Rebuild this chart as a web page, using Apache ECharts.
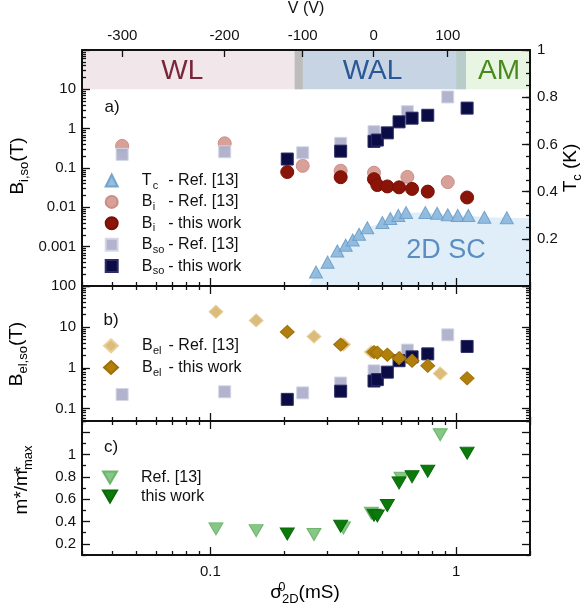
<!DOCTYPE html>
<html><head><meta charset="utf-8">
<script src="https://cdn.jsdelivr.net/npm/echarts@6/dist/echarts.min.js"></script>
<style>html,body{margin:0;padding:0;background:#fff}#c{width:586px;height:614px}</style>
</head><body><div id="c"></div>
<script>
// ---------------- data ----------------
// Panel a: Tc from Ref. [13]
const tcSigma = [0.269, 0.300, 0.3285, 0.3554, 0.3795, 0.4027, 0.4352, 0.501, 0.540, 0.582, 0.626, 0.750, 0.837, 0.925, 1.016, 1.122, 1.304, 1.609];
const tcValues = [0.059, 0.101, 0.148, 0.173, 0.195, 0.219, 0.247, 0.269, 0.286, 0.299, 0.311, 0.311, 0.308, 0.302, 0.299, 0.299, 0.291, 0.289];
const scStart = [0.252, 0];
const scEnd = [2.0, 0.288];
// Panel a: Bi, Bso
const refSigmaA = [0.0437, 0.1143, 0.2375, 0.339, 0.4634, 0.6336, 0.925];
const biRef = [0.365, 0.424, 0.1135, 0.0851, 0.076, 0.0594, 0.0438];
const bsoRef = [0.222, 0.259, 0.244, 0.424, 0.842, 2.71, 6.4];
const thisSigma = [0.2055, 0.339, 0.4634, 0.478, 0.525, 0.586, 0.662, 0.767, 1.109];
const biThis = [0.079, 0.0584, 0.052, 0.0369, 0.034, 0.0322, 0.0294, 0.0251, 0.0178];
const bsoThis = [0.169, 0.268, 0.475, 0.514, 0.782, 1.49, 1.85, 2.19, 3.33];
// Panel b: Bel
const refSigmaBC = [0.1053, 0.1535, 0.264, 0.348, 0.452, 0.597, 0.862];
const belRef = [23.4, 14.4, 5.8, 3.69, 2.42, 1.8, 0.724];
const belThis = [7.53, 3.69, 2.42, 2.34, 2.09, 1.72, 1.49, 1.12, 0.555];
// Panel c: m*/m*max
const mRef = [0.334, 0.318, 0.283, 0.343, 0.474, 0.787, 1.177];
const mThis = [0.288, 0.357, 0.456, 0.45, 0.543, 0.746, 0.80, 0.85, 1.012];
// regimes (top band)
const bandNames = ['WL', '', 'WAL', '', 'AM'];
const bandFrom = [0.03, 0.22, 0.238, 1.0, 1.1];
const bandTo = [0.22, 0.238, 1.0, 1.1, 2.0];
const bandY = [10, 100];
// tick labels
const vTickLabels = [-300, -200, -100, 0, 100];
const vTickSigma = [0.0438, 0.1141, 0.2375, 0.462, 0.925];
const sigmaLabels = [0.1, 1];
const bLabelsA = [0.001, 0.01, 0.1, 1, 10];
const bLabelsB = [0.1, 1, 10, 100];
const tcLabels = [0.2, 0.4, 0.6, 0.8, 1];
const mLabels = [0.2, 0.4, 0.6, 0.8, 1];

// ---------------- helpers ----------------
const FONT = '"Liberation Sans", Arial, Helvetica, sans-serif';
const K = '#111';
const SX = [0.03, 2];      // sigma range
const YA = [1e-4, 100];    // panel a B range
const YB = [0.05, 100];    // panel b B range
const YC = [0.1, 1.3];     // panel c range

function logMajors(min, max) {
  const out = [];
  for (let e = Math.floor(Math.log10(min)); e <= Math.ceil(Math.log10(max)); e++) {
    const v = +Math.pow(10, e).toPrecision(6);
    if (v >= min * 0.9999 && v <= max * 1.0001) out.push(v);
  }
  return out;
}
function logMinors(min, max) {
  const out = [];
  for (let e = Math.floor(Math.log10(min)); e <= Math.ceil(Math.log10(max)); e++) {
    for (let k = 2; k <= 9; k++) {
      const v = +(k * Math.pow(10, e)).toPrecision(6);
      if (v >= min * 0.9999 && v <= max * 1.0001) out.push(v);
    }
  }
  return out;
}
function linTicks(min, max, step, offset) {
  const out = [];
  for (let v = offset; v <= max + 1e-9; v += step) {
    if (v >= min - 1e-9) out.push(+v.toFixed(4));
  }
  return out;
}
function fmtNum(v) { return String(+Number(v).toPrecision(3)); }

const subRich = (fs, sfs, drop) => ({
  m: { fontSize: fs, fontFamily: FONT, color: K, lineHeight: fs + 6 },
  s: { fontSize: sfs, fontFamily: FONT, color: K, lineHeight: sfs, padding: [drop, 0, 0, 0] },
  u0: { fontSize: sfs, fontFamily: FONT, color: K, lineHeight: sfs, padding: [0, 0, drop, 0], width: 0.01 },
  m0: { fontSize: fs, fontFamily: FONT, color: K, width: 0.01, lineHeight: fs + 6 }
});

function axis(o) {
  const a = {
    type: o.type, gridIndex: o.grid, position: o.pos, min: o.min, max: o.max, logBase: 10,
    z: 20,
    axisLine: { show: !!o.line, onZero: false, lineStyle: { color: K, width: 2 } },
    axisTick: { show: !!o.ticks, inside: true, length: o.len || 0, customValues: o.ticks || [], lineStyle: { color: K, width: 1.3 } },
    axisLabel: o.labels ? { show: true, interval: 0, customValues: o.labels, formatter: o.fmt || fmtNum, margin: o.margin == null ? 6 : o.margin,
      color: K, fontSize: 15, lineHeight: 15, fontFamily: FONT, hideOverlap: false, showMinLabel: true, showMaxLabel: true } : { show: false },
    splitLine: { show: false }, minorTick: { show: false }, minorSplitLine: { show: false },
    silent: true
  };
  if (o.name) {
    a.name = o.name; a.nameLocation = 'middle'; a.nameGap = o.nameGap;
    a.nameMoveOverlap = false;
    a.nameTextStyle = o.nameStyle || { color: K, fontSize: 16, fontFamily: FONT };
    if (o.nameRotate != null) a.nameRotate = o.nameRotate;
  }
  return a;
}

const xMaj = logMajors(SX[0], SX[1]);
const xMin = logMinors(SX[0], SX[1]);

const xAxes = [
  // grid 0
  axis({ type: 'log', grid: 0, pos: 'bottom', min: SX[0], max: SX[1], ticks: xMaj, len: 8, line: true }),
  axis({ type: 'log', grid: 0, pos: 'bottom', min: SX[0], max: SX[1], ticks: xMin, len: 4 }),
  axis({ type: 'log', grid: 0, pos: 'top', min: SX[0], max: SX[1], ticks: vTickSigma, len: 7, line: true,
    labels: vTickSigma, margin: 7, name: 'V (V)', nameGap: 33,
    fmt: v => { let b = 0, d = 1e9; vTickSigma.forEach((s, i) => { const dd = Math.abs(Math.log(s) - Math.log(v)); if (dd < d) { d = dd; b = i; } }); return String(vTickLabels[b]); } }),
  // grid 1
  axis({ type: 'log', grid: 1, pos: 'bottom', min: SX[0], max: SX[1], ticks: xMaj, len: 8, line: true }),
  axis({ type: 'log', grid: 1, pos: 'bottom', min: SX[0], max: SX[1], ticks: xMin, len: 4 }),
  axis({ type: 'log', grid: 1, pos: 'top', min: SX[0], max: SX[1], ticks: xMaj, len: 8, line: true }),
  axis({ type: 'log', grid: 1, pos: 'top', min: SX[0], max: SX[1], ticks: xMin, len: 4 }),
  // grid 2
  axis({ type: 'log', grid: 2, pos: 'bottom', min: SX[0], max: SX[1], ticks: xMaj, len: 8, line: true, labels: sigmaLabels, margin: 9 }),
  axis({ type: 'log', grid: 2, pos: 'bottom', min: SX[0], max: SX[1], ticks: xMin, len: 4 }),
  axis({ type: 'log', grid: 2, pos: 'top', min: SX[0], max: SX[1], ticks: xMaj, len: 8, line: true }),
  axis({ type: 'log', grid: 2, pos: 'top', min: SX[0], max: SX[1], ticks: xMin, len: 4 })
];
const yAxes = [
  // grid 0
  axis({ type: 'log', grid: 0, pos: 'left', min: YA[0], max: YA[1], ticks: logMajors(YA[0], YA[1]), len: 8, line: true, labels: bLabelsA }),
  axis({ type: 'log', grid: 0, pos: 'left', min: YA[0], max: YA[1], ticks: logMinors(YA[0], YA[1]), len: 4 }),
  axis({ type: 'value', grid: 0, pos: 'right', min: 0, max: 1, ticks: linTicks(0, 1, 0.2, 0), len: 8, line: true, labels: tcLabels, margin: 7 }),
  axis({ type: 'value', grid: 0, pos: 'right', min: 0, max: 1, ticks: linTicks(0, 1, 0.05, 0), len: 4 }),
  // grid 1
  axis({ type: 'log', grid: 1, pos: 'left', min: YB[0], max: YB[1], ticks: logMajors(YB[0], YB[1]), len: 8, line: true, labels: bLabelsB }),
  axis({ type: 'log', grid: 1, pos: 'left', min: YB[0], max: YB[1], ticks: logMinors(YB[0], YB[1]), len: 4 }),
  axis({ type: 'log', grid: 1, pos: 'right', min: YB[0], max: YB[1], ticks: logMajors(YB[0], YB[1]), len: 8, line: true }),
  axis({ type: 'log', grid: 1, pos: 'right', min: YB[0], max: YB[1], ticks: logMinors(YB[0], YB[1]), len: 4 }),
  // grid 2 (tick labels placed below through this axis' own scale)
  axis({ type: 'value', grid: 2, pos: 'left', min: YC[0], max: YC[1], ticks: linTicks(YC[0], YC[1], 0.2, 0.2), len: 8, line: true }),
  axis({ type: 'value', grid: 2, pos: 'left', min: YC[0], max: YC[1], ticks: linTicks(YC[0], YC[1], 0.2, 0.1), len: 4 }),
  axis({ type: 'value', grid: 2, pos: 'right', min: YC[0], max: YC[1], ticks: linTicks(YC[0], YC[1], 0.2, 0.2), len: 8, line: true }),
  axis({ type: 'value', grid: 2, pos: 'right', min: YC[0], max: YC[1], ticks: linTicks(YC[0], YC[1], 0.2, 0.1), len: 4 })
];

function pairs(xs, ys) { return xs.map((x, i) => [x, ys[i]]); }
function sc(name, xi, yi, xs, ys, symbol, size, color, border, opacity, z, rotate) {
  return {
    type: 'scatter', name, xAxisIndex: xi, yAxisIndex: yi, data: pairs(xs, ys),
    symbol, symbolSize: size, symbolRotate: rotate || 0,
    itemStyle: { color, borderColor: border, borderWidth: 1, opacity },
    z, emphasis: { disabled: true }, silent: true
  };
}

const C = {
  tc: '#8ab6dc', tcB: '#6b9dc9',
  biR: '#d59c94', biRB: '#c98a82',
  biT: '#8a1408', biTB: '#7a1006',
  bsoR: '#aeb0cb', bsoRB: '#d4d6e6',
  bsoT: '#0b0c45', bsoTB: '#2b2d66',
  belR: '#dab874', belRB: '#e8cf9a',
  belT: '#b07f0c', belTB: '#a07008',
  mR: '#79c079', mRB: '#63b063',
  mT: '#0b7a0b', mTB: '#0a6a0a'
};
const bandColors = ['#f1e6ea', '#bcbcbc', '#c7d4e3', '#b8ccc9', '#e8f5e3'];
const bandText = ['#7a2638', '#000', '#2b5797', '#000', '#4a8a1c'];
const bandOffset = [-6, 0, -7, 0, 1];

const series = [
  { type: 'line', name: 'bands', xAxisIndex: 0, yAxisIndex: 0, data: [], silent: true, z: 1,
    markArea: { silent: true, data: bandFrom.map((f, i) => [
      { name: bandNames[i], xAxis: f, yAxis: bandY[0], itemStyle: { color: bandColors[i] },
        label: { show: !!bandNames[i], position: 'inside', offset: [bandOffset[i], 2], color: bandText[i], fontSize: 28, fontFamily: FONT } },
      { xAxis: bandTo[i], yAxis: bandY[1] }]) } },
  { type: 'line', name: 'sc', xAxisIndex: 0, yAxisIndex: 2, data: [scStart].concat(pairs(tcSigma, tcValues), [scEnd]),
    showSymbol: false, symbol: 'none', lineStyle: { width: 0, opacity: 0 }, areaStyle: { color: '#e0eef9', opacity: 1 }, silent: true, z: 1 },
  sc('Tc ref', 0, 2, tcSigma, tcValues, 'triangle', [13, 12], C.tc, C.tcB, 0.9, 3),
  sc('Bi ref', 0, 0, refSigmaA, biRef, 'circle', 13, C.biR, C.biRB, 0.95, 3),
  sc('Bso ref', 0, 0, refSigmaA, bsoRef, 'rect', 12, C.bsoR, C.bsoRB, 0.95, 3),
  sc('Bi this', 0, 0, thisSigma, biThis, 'circle', 13, C.biT, C.biTB, 1, 4),
  sc('Bso this', 0, 0, thisSigma, bsoThis, 'rect', 12, C.bsoT, C.bsoTB, 1, 4),
  sc('Bel ref', 3, 4, refSigmaBC, belRef, 'diamond', [14, 13], C.belR, C.belRB, 0.95, 3),
  sc('Bso ref b', 3, 4, refSigmaA, bsoRef, 'rect', 12, C.bsoR, C.bsoRB, 0.95, 3),
  sc('Bso this b', 3, 4, thisSigma, bsoThis, 'rect', 12, C.bsoT, C.bsoTB, 1, 4),
  sc('Bel this', 3, 4, thisSigma, belThis, 'diamond', [14, 13], C.belT, C.belTB, 1, 5),
  sc('m ref', 7, 8, refSigmaBC, mRef, 'triangle', [14, 12], C.mR, C.mRB, 0.9, 3, 180),
  sc('m this', 7, 8, thisSigma, mThis, 'triangle', [14, 12], C.mT, C.mTB, 1, 4, 180)
];

const legRich = {
  sp: { width: 19, fontSize: 16, lineHeight: 20 },
  m: { width: 11, fontSize: 16, lineHeight: 20, fontFamily: FONT, color: K },
  s: { width: 15.6, fontSize: 11, lineHeight: 10, padding: [10, 0, 0, 0], fontFamily: FONT, color: K },
  r: { fontSize: 16, lineHeight: 20, fontFamily: FONT, color: K }
};
const legText = {
  'Tc ref': '{sp| }{m|T}{s|c}{r|- Ref. [13]}',
  'Bi ref': '{sp| }{m|B}{s|i}{r|- Ref. [13]}',
  'Bi this': '{sp| }{m|B}{s|i}{r|- this work}',
  'Bso ref': '{sp| }{m|B}{s|so}{r|- Ref. [13]}',
  'Bso this': '{sp| }{m|B}{s|so}{r|- this work}',
  'Bel ref': '{sp| }{m|B}{s|el}{r|- Ref. [13]}',
  'Bel this': '{sp| }{m|B}{s|el}{r|- this work}',
  'm ref': '{sp| }{r|Ref. [13]}',
  'm this': '{sp| }{r|this work}'
};
const downTri = 'path://M0,0L14,0L7,12Z';
function legend(items, left, top, gap, iw, ih) {
  return {
    data: items, orient: 'vertical', left, top, padding: 0, itemGap: gap,
    itemWidth: iw, itemHeight: ih, selectedMode: false,
    formatter: n => legText[n],
    textStyle: { rich: legRich, fontFamily: FONT, fontSize: 16, color: K }
  };
}

const graphic = [
  { type: 'text', x: 112, y: 107, style: { text: 'a)', fontSize: 17, fontFamily: FONT, fill: K, align: 'center', verticalAlign: 'middle' } },
  { type: 'text', x: 111, y: 320, style: { text: 'b)', fontSize: 17, fontFamily: FONT, fill: K, align: 'center', verticalAlign: 'middle' } },
  { type: 'text', x: 111, y: 447, style: { text: 'c)', fontSize: 17, fontFamily: FONT, fill: K, align: 'center', verticalAlign: 'middle' } },
  { type: 'text', x: 446, y: 251, z: 50, style: { text: '2D SC', fontSize: 27, fontFamily: FONT, fill: '#5b8ec0', align: 'center', verticalAlign: 'middle' } },
  { type: 'text', x: 18, y: 166, rotation: Math.PI / 2, style: { text: '{m|B}{s|i,so}{m|(T)}', rich: subRich(19, 13, 12), align: 'center', verticalAlign: 'middle' } },
  { type: 'text', x: 17, y: 354, rotation: Math.PI / 2, style: { text: '{m|B}{s|el,so}{m|(T)}', rich: subRich(19, 13, 12), align: 'center', verticalAlign: 'middle' } },
  { type: 'text', x: 22, y: 480, rotation: Math.PI / 2, style: { text: '{m|m*/m}{m0|*}{s|max}', rich: subRich(19, 13, 12), align: 'center', verticalAlign: 'middle' } },
  { type: 'text', x: 571, y: 168, rotation: Math.PI / 2, style: { text: '{m|T}{s|c}{m| (K)}', rich: subRich(19, 13, 12), align: 'center', verticalAlign: 'middle' } },
  { type: 'text', x: 305, y: 593, style: { text: '{m|σ}{u0|0}{s|2D}{m|(mS)}', rich: subRich(19, 13, 12), align: 'center', verticalAlign: 'middle' } }
];

const option = {
  animation: false,
  backgroundColor: '#fff',
  textStyle: { fontFamily: FONT },
  grid: [
    { left: 82, top: 45, width: 448, height: 241 },
    { left: 82, top: 286, width: 448, height: 135 },
    { left: 82, top: 421, width: 448, height: 134 }
  ],
  xAxis: xAxes,
  yAxis: yAxes,
  legend: [
    legend(['Tc ref', 'Bi ref', 'Bi this', 'Bso ref', 'Bso this'], 104.7, 170, 0.4, 12, 12),
    legend(['Bel ref', 'Bel this'], 103, 335.3, 0.7, 14, 13),
    legend([{ name: 'm ref', icon: downTri }, { name: 'm this', icon: downTri }], 102, 469.5, 3, 14, 12)
  ],
  series,
  graphic
};
const chart = echarts.init(document.getElementById('c'), null, { renderer: 'canvas', width: 586, height: 614 });
chart.setOption(option);

// panel c tick labels, positioned through the y axis scale of grid 2, on their own top layer
const gridLeft = chart.convertToPixel({ xAxisIndex: 7 }, SX[0]);
const mLabelGraphics = mLabels.map(v => ({
  type: 'text', x: gridLeft - 6, y: chart.convertToPixel({ yAxisIndex: 8 }, v), zlevel: 3, z: 100,
  style: { text: fmtNum(v), fontSize: 15, fontFamily: FONT, fill: K, align: 'right', verticalAlign: 'middle' }
}));
chart.setOption({ graphic: graphic.concat(mLabelGraphics) });
</script>
</body></html>
